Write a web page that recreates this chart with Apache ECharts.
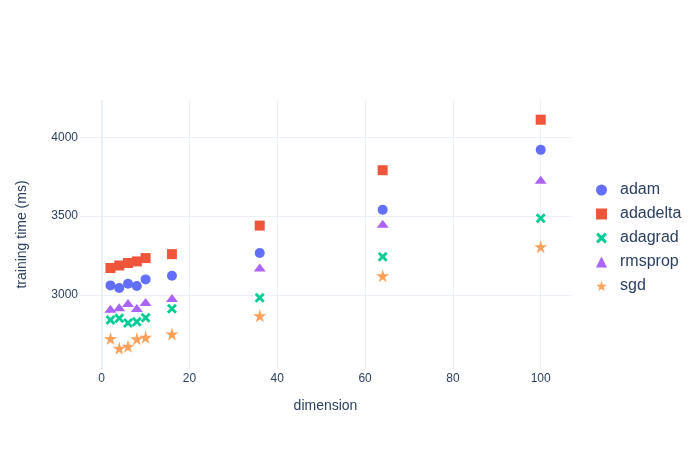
<!DOCTYPE html>
<html>
<head>
<meta charset="utf-8">
<script src="https://cdn.jsdelivr.net/npm/echarts@6/dist/echarts.min.js"></script>
<style>
  html, body { margin: 0; padding: 0; background: #fff; }
  #chart { width: 700px; height: 450px; }
</style>
</head>
<body>
<div id="chart"></div>
<script>
// embedding dimension vs training time per optimizer
const dims = [2, 4, 6, 8, 10, 16, 36, 64, 100];
const adam = [3061, 3044, 3071, 3057, 3099, 3122, 3266, 3540, 3920];
const adadelta = [3171, 3187, 3203, 3213, 3234, 3259, 3440, 3791, 4111];
const adagrad = [2842, 2852, 2822, 2830, 2856, 2913, 2983, 3242, 3487];
const rmsprop = [2913, 2922, 2949, 2918, 2956, 2981, 3175, 3451, 3730];
const sgd = [2725, 2662, 2675, 2722, 2732, 2753, 2869, 3122, 3306];

const xTicks = [0, 20, 40, 60, 80, 100];
const yTicks = [3000, 3500, 4000];

const xPath = 'path://M2,0L5,3L8,0L10,2L7,5L10,8L8,10L5,7L2,10L0,8L3,5L0,2Z';
const starPath = 'path://M50,0L61,35L98,35L68,57L79,91L50,70L21,91L32,57L2,35L39,35Z';

const textColor = '#2a3f5f';
const gridColor = '#EBF0F8';
const font = 'Liberation Sans, Arial, sans-serif';

const pairs = ys => dims.map((d, i) => [d, ys[i]]);

const mk = (name, ys, color, symbol, size) => ({
  name: name,
  type: 'scatter',
  data: pairs(ys),
  symbol: symbol,
  symbolSize: size,
  itemStyle: { color: color, opacity: 1 },
  emphasis: { disabled: true }
});

const series = [
  mk('adam', adam, '#636efa', 'circle', 10),
  mk('adadelta', adadelta, '#EF553B', 'rect', 10),
  mk('adagrad', adagrad, '#00cc96', xPath, 10),
  mk('rmsprop', rmsprop, '#ab63fa', 'triangle', [12, 8]),
  mk('sgd', sgd, '#FFA15A', starPath, 13)
];
// zero line on the x axis
series[0].markLine = {
  silent: true,
  symbol: 'none',
  label: { show: false },
  lineStyle: { color: gridColor, width: 2, type: 'solid' },
  data: [{ xAxis: 0 }],
  z: 1
};

const chart = echarts.init(document.getElementById('chart'));
chart.setOption({
  backgroundColor: '#fff',
  animation: false,
  grid: { left: 80, right: 129, top: 100, bottom: 81 },
  legend: {
    orient: 'vertical',
    left: 591,
    top: 177,
    itemWidth: 11,
    itemHeight: 11,
    itemGap: 8,
    textStyle: { color: textColor, fontSize: 16, fontFamily: font, padding: [0, 0, 0, 8] }
  },
  xAxis: {
    type: 'value',
    min: -4.94,
    max: 106.9,
    name: 'dimension',
    nameLocation: 'middle',
    nameGap: 30,
    nameTextStyle: { color: textColor, fontSize: 14, fontFamily: font },
    axisLine: { show: false },
    axisTick: { show: false, customValues: xTicks },
    axisLabel: { customValues: xTicks, color: textColor, fontSize: 12, margin: 4, fontFamily: font },
    splitLine: { show: true, lineStyle: { color: gridColor, width: 1 } }
  },
  yAxis: {
    type: 'value',
    min: 2531,
    max: 4236,
    name: 'training time (ms)',
    nameLocation: 'middle',
    nameGap: 51,
    nameTextStyle: { color: textColor, fontSize: 14, fontFamily: font },
    axisLine: { show: false },
    axisTick: { show: false, customValues: yTicks },
    axisLabel: { customValues: yTicks, formatter: v => String(v), color: textColor, fontSize: 12, margin: 2, fontFamily: font },
    splitLine: { show: true, lineStyle: { color: gridColor, width: 1 } }
  },
  series: series
});
</script>
</body>
</html>
